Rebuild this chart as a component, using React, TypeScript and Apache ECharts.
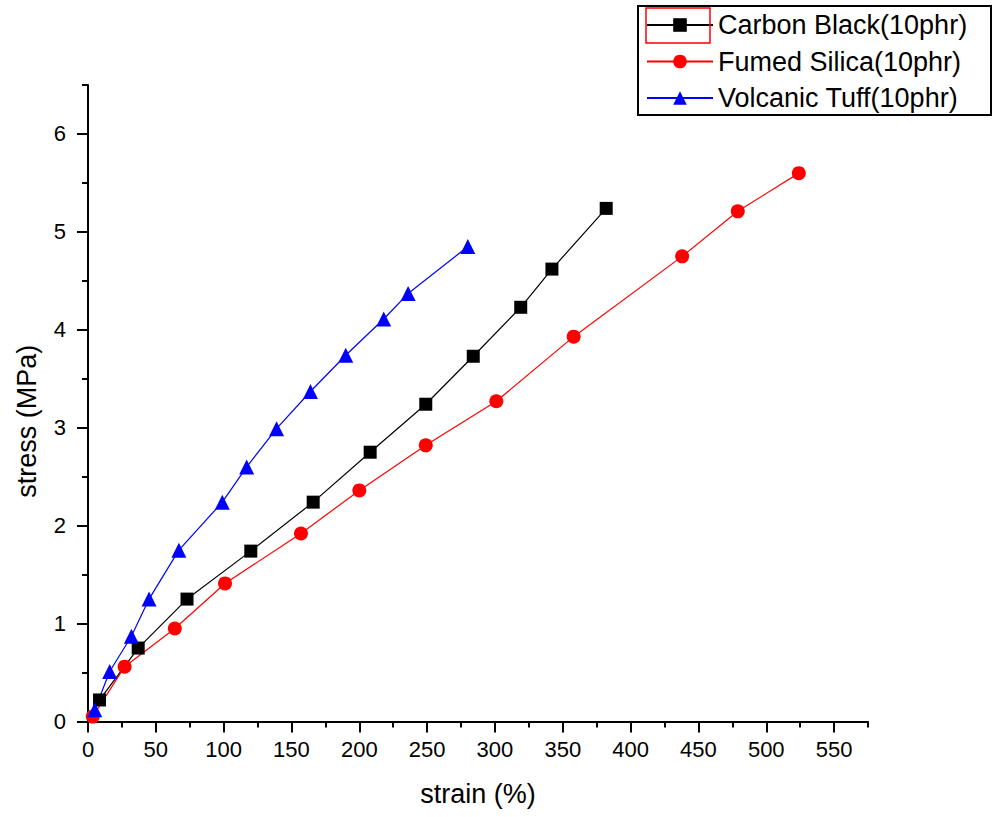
import React, { useEffect, useRef } from "react";
import * as echarts from "echarts";

const seriesNames = ["Carbon Black(10phr)", "Fumed Silica(10phr)", "Volcanic Tuff(10phr)"];

const carbonBlack: [number, number][] = [
  [8.5, 0.22], [37, 0.75], [73, 1.25], [120, 1.74], [166, 2.24], [208, 2.75],
  [249, 3.24], [284, 3.73], [319, 4.23], [342, 4.62], [382, 5.24],
];

const fumedSilica: [number, number][] = [
  [3.5, 0.05], [27, 0.56], [64, 0.95], [101, 1.41], [157, 1.92], [200, 2.36],
  [249, 2.82], [301, 3.27], [358, 3.93], [438, 4.75], [479, 5.21], [524, 5.6],
];

const volcanicTuff: [number, number][] = [
  [5, 0.12], [16, 0.51], [32, 0.87], [45, 1.25], [67, 1.75], [99, 2.24], [117, 2.6],
  [139, 2.99], [164, 3.37], [190, 3.74], [218, 4.11], [236, 4.37], [280, 4.85],
];

const xMajorTicks = [0, 50, 100, 150, 200, 250, 300, 350, 400, 450, 500, 550];
const yMajorTicks = [0, 1, 2, 3, 4, 5, 6];

const X_MAX = 575;
const Y_MAX = 6.5;
const FONT = "'Liberation Sans', Arial, sans-serif";

export default function App() {
  const ref = useRef<HTMLDivElement>(null);
  useEffect(() => {
    const chart = echarts.init(ref.current!, null, { renderer: "svg" });
    const axisLine = { show: true, lineStyle: { color: "#000", width: 2 } };
    const option: any = {
      animation: false,
      backgroundColor: "#fff",
      grid: { left: 88, right: 129, top: 85, bottom: 95.5, containLabel: false },
      legend: {
        orient: "vertical",
        left: 646,
        top: 11,
        padding: 0,
        itemWidth: 66,
        itemHeight: 17,
        itemGap: 8.5,
        data: seriesNames,
        textStyle: { fontFamily: FONT, fontSize: 27, color: "#000", lineHeight: 28 },
      },
      xAxis: [
        {
          type: "value",
          min: 0,
          max: X_MAX,
          interval: 25,
          axisLine,
          axisTick: { show: true, inside: false, length: 6, lineStyle: { color: "#000", width: 2 } },
          axisLabel: { show: false },
          splitLine: { show: false },
        },
        {
          type: "value",
          min: 0,
          max: X_MAX,
          interval: 50,
          position: "bottom",
          axisLine: { show: false },
          axisTick: { show: true, inside: false, length: 11, customValues: xMajorTicks, lineStyle: { color: "#000", width: 2 } },
          axisLabel: { show: true, customValues: xMajorTicks, margin: 17, fontFamily: FONT, fontSize: 22, color: "#000" },
          splitLine: { show: false },
          name: "strain (%)",
          nameLocation: "middle",
          nameGap: 59,
          nameTextStyle: { fontFamily: FONT, fontSize: 27, color: "#000" },
        },
      ],
      yAxis: [
        {
          type: "value",
          min: 0,
          max: Y_MAX,
          interval: 0.5,
          axisLine,
          axisTick: { show: true, inside: false, length: 6, lineStyle: { color: "#000", width: 2 } },
          axisLabel: { show: false },
          splitLine: { show: false },
        },
        {
          type: "value",
          min: 0,
          max: Y_MAX,
          interval: 1,
          position: "left",
          offset: 0,
          axisLine: { show: false },
          axisTick: { show: true, inside: false, length: 11, customValues: yMajorTicks, lineStyle: { color: "#000", width: 2 } },
          axisLabel: { show: true, customValues: yMajorTicks, margin: 22, fontFamily: FONT, fontSize: 22, color: "#000" },
          splitLine: { show: false },
          name: "stress (MPa)",
          nameLocation: "middle",
          nameGap: 48,
          nameTextStyle: { fontFamily: FONT, fontSize: 27, color: "#000", padding: [0, 36, 0, 0] },
        },
      ],
      series: [
        {
          name: seriesNames[0],
          type: "line",
          data: carbonBlack,
          symbol: "rect",
          symbolSize: 13,
          itemStyle: { color: "#000" },
          lineStyle: { color: "#000", width: 1.2 },
        },
        {
          name: seriesNames[1],
          type: "line",
          data: fumedSilica,
          symbol: "circle",
          symbolSize: 14,
          itemStyle: { color: "#ff0000" },
          lineStyle: { color: "#ff0000", width: 1.2 },
        },
        {
          name: seriesNames[2],
          type: "line",
          data: volcanicTuff,
          symbol: "triangle",
          symbolSize: 15,
          itemStyle: { color: "#0000ff" },
          lineStyle: { color: "#0000ff", width: 1.2 },
        },
      ],
      graphic: [
        {
          type: "rect",
          shape: { x: 638, y: 6, width: 353, height: 109 },
          style: { fill: "none", stroke: "#000", lineWidth: 2 },
          z: 100,
        },
        {
          type: "rect",
          shape: { x: 646, y: 8, width: 64, height: 35 },
          style: { fill: "none", stroke: "#ff0000", lineWidth: 1.5 },
          z: 100,
        },
      ],
    };
    chart.setOption(option);
    return () => chart.dispose();
  }, []);
  return (
    <div
      ref={ref}
      style={{ position: "fixed", left: 0, top: 0, width: 997, height: 817, background: "#fff" }}
    />
  );
}
